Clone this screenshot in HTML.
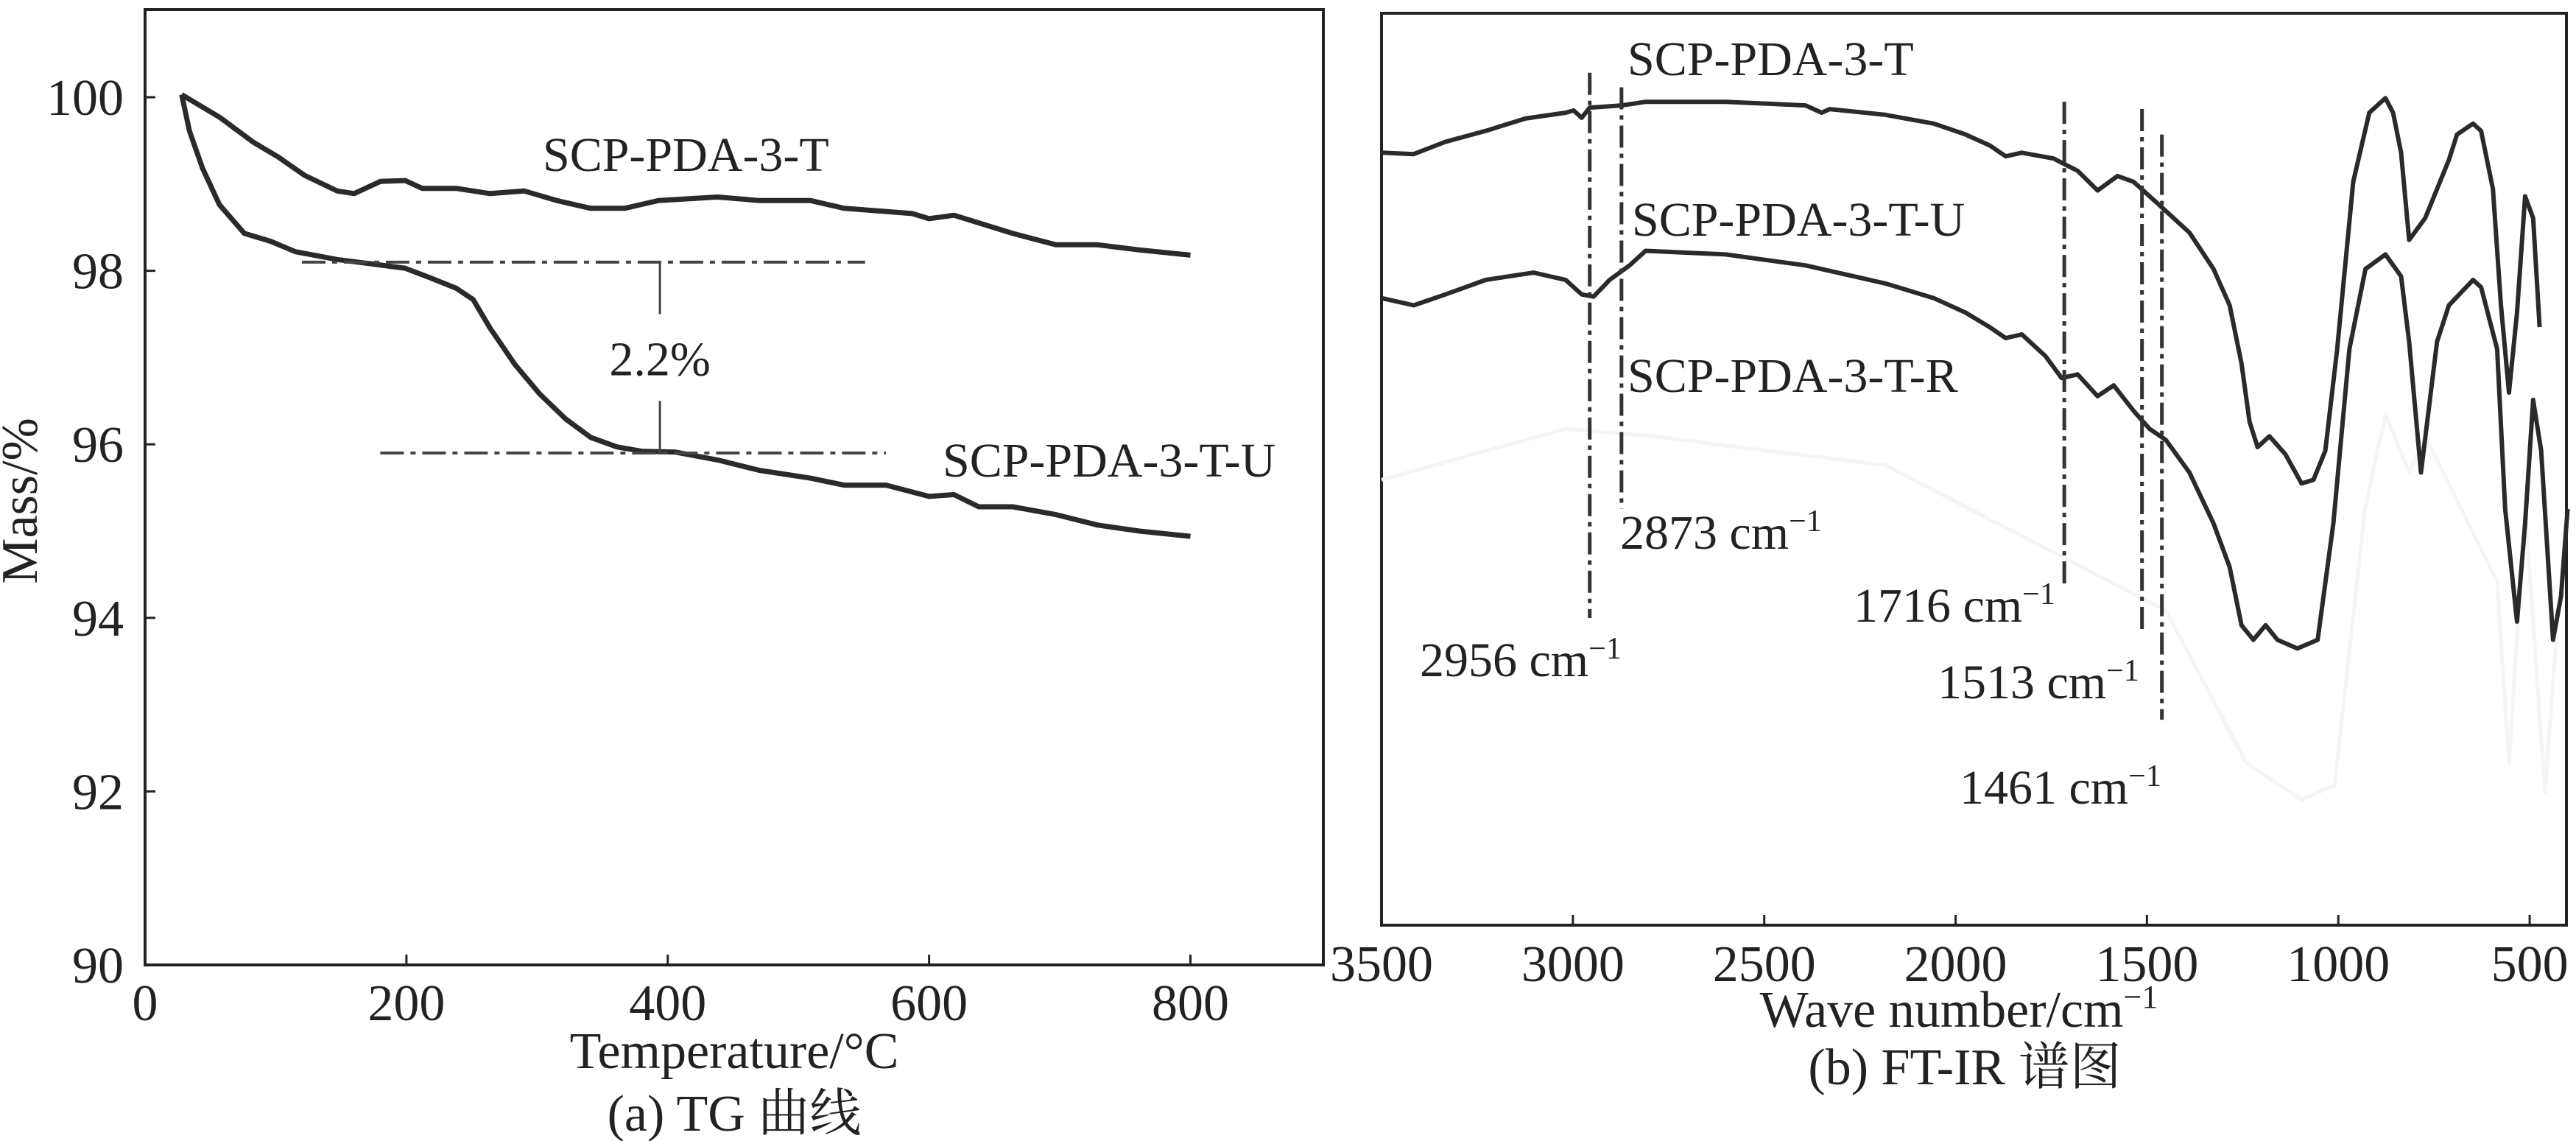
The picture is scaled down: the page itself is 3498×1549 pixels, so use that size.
<!DOCTYPE html>
<html><head><meta charset="utf-8"><style>
html,body{margin:0;padding:0;background:#fff}
svg{display:block}
text{font-family:"Liberation Serif","Noto Serif CJK SC",serif;fill:#222}
</style></head><body>
<svg id="fig" width="3498" height="1549" viewBox="0 0 3498 1549" xmlns="http://www.w3.org/2000/svg">
<g id="tg"></g>
<g id="ir"></g>
</svg>
<script>
// ---- TG chart data ----
const tgTicksX = [0,200,400,600,800];
const tgTicksY = [90,92,94,96,98,100];
const tgT_temp = [28,57,83,102,122,147,160,180,199,212,238,264,290,315,341,367,393,438,470,509,535,587,600,619,664,697,729,761,800];
const tgT_mass = [100.03,99.77,99.48,99.31,99.10,98.92,98.89,99.03,99.04,98.95,98.95,98.89,98.92,98.81,98.72,98.72,98.81,98.85,98.81,98.81,98.72,98.66,98.60,98.64,98.43,98.30,98.30,98.24,98.18];
const tgU_temp = [28,34,44,57,76,96,115,147,173,199,218,238,251,264,283,302,322,341,361,380,406,438,470,509,535,567,600,619,638,664,697,729,761,800];
const tgU_mass = [100.03,99.61,99.18,98.76,98.43,98.34,98.22,98.13,98.08,98.03,97.92,97.80,97.67,97.34,96.92,96.58,96.29,96.08,95.97,95.92,95.91,95.82,95.70,95.61,95.53,95.53,95.40,95.42,95.28,95.28,95.19,95.07,95.00,94.94];
const tgLevels = [98.1,95.9];
const tgLevelStart = [120,180];
const tgLevelEnd = [551,567];
const tgLossTemp = 394;
// ---- FT-IR chart data ----
const irTicks = [3500,3000,2500,2000,1500,1000,500];
const irT_w = [3500,3416,3333,3228,3124,3019,2998,2977,2956,2872,2810,2601,2392,2350,2329,2183,2057,1974,1911,1869,1827,1744,1681,1629,1577,1535,1472,1389,1326,1284,1253,1232,1211,1180,1138,1096,1065,1034,1003,961,919,877,857,836,815,773,711,690,648,627,596,575,554,533,512,491,474];
const irT_v = [106.3,106.1,107.8,109.3,111.0,111.8,112.1,111.1,112.5,112.8,113.3,113.3,112.8,111.8,112.3,111.5,110.3,108.8,107.3,105.8,106.3,105.5,103.8,101.1,103.1,102.3,99.3,95.3,90.3,85.3,77.3,69.3,65.8,67.3,64.8,60.8,61.3,65.3,79.3,102.3,111.8,113.8,111.8,106.3,94.3,97.3,105.3,108.8,110.3,109.3,101.3,85.3,73.3,84.3,100.3,97.3,82.3];
const irU_w = [3500,3416,3333,3228,3103,3019,2977,2946,2904,2852,2810,2601,2392,2183,2057,1974,1911,1869,1827,1765,1723,1681,1629,1587,1535,1493,1451,1389,1326,1284,1253,1222,1190,1159,1107,1054,1013,971,929,877,836,815,784,742,711,648,627,585,564,533,512,491,470,439,418,401];
const irU_v = [86.3,85.3,86.8,88.8,89.8,88.8,86.8,86.5,88.8,90.8,92.8,92.3,90.8,88.3,86.3,84.3,82.3,80.8,81.3,78.3,75.3,75.8,72.8,74.3,70.8,68.3,66.8,62.3,55.3,49.3,41.3,39.3,41.3,39.3,38.1,39.3,55.3,79.3,90.3,92.3,89.3,80.3,62.3,80.3,85.3,88.8,87.8,79.3,57.3,41.8,55.3,72.3,65.3,39.3,45.3,57.3];
const irR_w = [3500,3019,2790,2600,2183,1450,1240,1096,1010,930,877,815,773,585,554,512,460,430];
const irR_v = [61.3,68.3,67.3,66.0,63.3,43.3,22.3,17.3,19.3,57.3,70.3,62.3,67.3,47.3,22.3,57.3,18.3,40];
const irMarks = [2956,2873,1716,1513,1461];
const irMarkTop = [117.3,115.3,113.3,112.3,108.8];
const irMarkBot = [42.3,57.3,46.3,40.3,28.3];

const NS='http://www.w3.org/2000/svg';
function mk(parent,tag,attrs,txt){const e=document.createElementNS(NS,tag);for(const k in attrs)e.setAttribute(k,attrs[k]);if(txt!==undefined)e.textContent=txt;parent.appendChild(e);return e;}

// ---- TG ----
const tg=document.getElementById('tg');
const tx=t=>197+t*1.7744;
const ty=m=>132+(100-m)*117.8;
let f=mk(tg,'rect',{x:197,y:13,width:1600,height:1297,fill:'none',stroke:'#222','stroke-width':4});

tgTicksX.forEach(v=>{
 let l=mk(tg,'line',{x1:tx(v),x2:tx(v),y1:1310,y2:1296,stroke:'#222','stroke-width':3});
 
 let t=mk(tg,'text',{x:tx(v),y:1385,'font-size':70,'text-anchor':'middle'},String(v));
 
});
tgTicksY.forEach(v=>{
 let l=mk(tg,'line',{x1:197,x2:211,y1:ty(v),y2:ty(v),stroke:'#222','stroke-width':3});
 
 let t=mk(tg,'text',{x:168,y:ty(v)+24,'font-size':70,'text-anchor':'end'},String(v));
 
});
function poly(g,xs,ys,fx,fy,st,w,name){
 const d=xs.map((x,i)=>(i?'L':'M')+fx(x).toFixed(1)+' '+fy(ys[i]).toFixed(1)).join(' ');
 const p=mk(g,'path',{d:d,fill:'none',stroke:st,'stroke-width':w,'stroke-linejoin':'round'});
 return p;}
poly(tg,tgT_temp,tgT_mass,tx,ty,'#2a2a2a',7,'series-scp-pda-3-t');
poly(tg,tgU_temp,tgU_mass,tx,ty,'#2a2a2a',7,'series-scp-pda-3-t-u');
tgLevels.forEach((m,i)=>{
 let l=mk(tg,'line',{x1:tx(tgLevelStart[i]),x2:tx(tgLevelEnd[i]),y1:ty(m),y2:ty(m),stroke:'#444','stroke-width':4,'stroke-dasharray':'32 9 7 9'});
 
});
let v1=mk(tg,'line',{x1:tx(tgLossTemp),x2:tx(tgLossTemp),y1:ty(tgLevels[0]),y2:ty(97.5),stroke:'#444','stroke-width':3});

let v2=mk(tg,'line',{x1:tx(tgLossTemp),x2:tx(tgLossTemp),y1:ty(96.5),y2:ty(tgLevels[1]),stroke:'#444','stroke-width':3});

let lt=mk(tg,'text',{x:tx(tgLossTemp),y:ty(97.0)+24,'font-size':66,'text-anchor':'middle'},'2.2%');

let a=mk(tg,'text',{x:737,y:232,'font-size':66},'SCP-PDA-3-T');

a=mk(tg,'text',{x:1280,y:647,'font-size':66},'SCP-PDA-3-T-U');

a=mk(tg,'text',{x:997,y:1450,'font-size':70,'text-anchor':'middle'},'Temperature/°C');

a=mk(tg,'text',{x:0,y:0,'font-size':70,'text-anchor':'middle',transform:'translate(50,680) rotate(-90)'},'Mass/%');

a=mk(tg,'text',{x:997,y:1535,'font-size':70,'text-anchor':'middle'},'(a) TG 曲线');


// ---- FT-IR ----
const ir=document.getElementById('ir');
const ix=w=>1876+(3500-w)*0.5197;
const iy=v=>(1273-v*10)*0.987;
f=mk(ir,'rect',{x:1876,y:18,width:1609,height:1238,fill:'none',stroke:'#222','stroke-width':4});

irTicks.forEach(v=>{
 let l=mk(ir,'line',{x1:ix(v),x2:ix(v),y1:1256,y2:1242,stroke:'#222','stroke-width':3});
 
 let t=mk(ir,'text',{x:ix(v),y:1332,'font-size':70,'text-anchor':'middle'},String(v));
 
});
poly(ir,irR_w,irR_v,ix,iy,'#f5f5f5',5,'series-scp-pda-3-t-r');
poly(ir,irT_w,irT_v,ix,iy,'#2a2a2a',6,'series-scp-pda-3-t');
poly(ir,irU_w,irU_v,ix,iy,'#2a2a2a',6,'series-scp-pda-3-t-u');
irMarks.forEach((w,i)=>{
 let l=mk(ir,'line',{x1:ix(w),x2:ix(w),y1:iy(irMarkTop[i]),y2:iy(irMarkBot[i]),stroke:'#333','stroke-width':5,'stroke-dasharray':'30 8 6 8'});
 
});
const irLab=[['SCP-PDA-3-T',2210,102,'label-scp-pda-3-t'],['SCP-PDA-3-T-U',2216,320,'label-scp-pda-3-t-u'],['SCP-PDA-3-T-R',2210,532,'label-scp-pda-3-t-r']];
irLab.forEach(o=>{let t=mk(ir,'text',{x:o[1],y:o[2],'font-size':66},o[0]);
 });
const pk=[['2873',2200,745],['2956',1928,918],['1716',2517,844],['1513',2631,948],['1461',2661,1091]];
pk.forEach(o=>{let t=mk(ir,'text',{x:o[1],y:o[2],'font-size':66},o[0]+' cm');
 mk(t,'tspan',{dy:-24,'font-size':42},'−1');
 });
a=mk(ir,'text',{x:2660,y:1394,'font-size':70,'text-anchor':'middle'},'Wave number/cm');
mk(a,'tspan',{dy:-26,'font-size':44},'−1');

a=mk(ir,'text',{x:2668,y:1472,'font-size':70,'text-anchor':'middle'},'(b) FT-IR 谱图');

</script>
</body></html>
